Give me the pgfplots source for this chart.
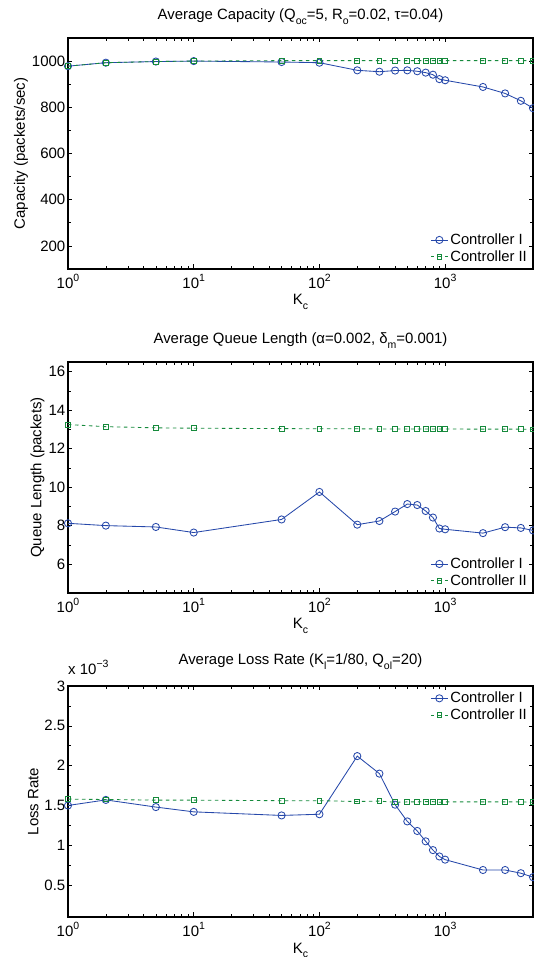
\documentclass[border=0pt]{standalone}
\usepackage{fontspec}
\setmainfont{Liberation Sans}
\usepackage{pgfplots}
\usepackage{pgfplotstable}
\pgfplotsset{compat=1.18}

\definecolor{cI}{RGB}{38,72,170}
\definecolor{cII}{RGB}{22,138,60}

% sub- and superscripts in the text font, as in the original
\newcommand\sub[1]{\raisebox{-0.55ex}{\fontsize{10.5}{10.5}\selectfont #1}}
\newcommand\tp[1]{10\raisebox{0.9ex}{\fontsize{10.5}{10.5}\selectfont #1}}

\pgfplotsset{
  kc/.style={
    scale only axis, width=465pt, height=231pt,
    xmin=1, xmax=5000,
    xtick={1,10,100,1000}, xticklabels={\tp{0},\tp{1},\tp{2},\tp{3}},
    minor y tick num=1,
    tick align=inside, major tick length=4.5pt, minor tick length=3pt,
    axis line style={line width=1.1pt},
    every tick/.style={black, line width=0.6pt},
    ticklabel style={font=\fontsize{15}{15}\selectfont},
    /pgf/number format/assume math mode=true,
    /pgf/number format/1000 sep={},
    xticklabel style={anchor=base, yshift=-19.7pt},
    yticklabel style={inner sep=2.5pt},
    label style={font=\fontsize{15}{15}\selectfont},
    xlabel={K\sub{c}},
    xlabel style={at={(axis description cs:0.5,0)}, anchor=base, yshift=-36pt},
    title style={font=\fontsize{14.9}{15}\selectfont, at={(axis description cs:0.5,1)}, anchor=base, yshift=12pt},
    legend cell align=left,
    legend style={draw=none, fill=none, font=\fontsize{14.8}{15}\selectfont,
      inner sep=0pt, row sep=0.5pt},
  },
  c1/.style={color=cI, line width=0.85pt, mark=o, mark size=3.6pt, mark options={solid}},
  c2/.style={color=cII, line width=0.85pt, dash pattern=on 3.5pt off 3.5pt, mark=square, mark size=2.4pt, mark options={solid}},
}

\pgfplotstableread{
K     capI  capII
1     978   978
2     993   993
5     998   998
10    1000  1000
50    996   1002
100   993   1002
200   960   1002
300   954   1002
400   959   1002
500   960   1002
600   956   1002
700   950   1002
800   941   1002
900   922   1002
1000  917   1002
2000  888   1002
3000  860   1002
4000  828   1002
5000  796   1002
}\captab

\pgfplotstableread{
K     qI    qII
1     8.12  13.25
2     8.00  13.14
5     7.93  13.08
10    7.64  13.06
50    8.32  13.04
100   9.75  13.03
200   8.05  13.03
300   8.24  13.02
400   8.73  13.02
500   9.12  13.02
600   9.07  13.02
700   8.76  13.02
800   8.42  13.02
900   7.85  13.02
1000  7.81  13.02
2000  7.61  13.01
3000  7.92  13.01
4000  7.88  13.01
5000  7.75  13.00
}\quetab

\pgfplotstableread{
K     lI        lII
1     0.00150   0.00158
2     0.00157   0.001575
5     0.00148   0.001567
10    0.00142   0.001567
50    0.001375  0.00156
100   0.00139   0.00156
200   0.00212   0.00155
300   0.00190   0.001555
400   0.00151   0.00154
500   0.00130   0.001545
600   0.00118   0.001545
700   0.00105   0.001548
800   0.00094   0.001548
900   0.00086   0.00154
1000  0.00082   0.001545
2000  0.00069   0.001545
3000  0.00069   0.001545
4000  0.00065   0.001545
5000  0.00060   0.00154
}\losstab

\begin{document}
\begin{tikzpicture}
\useasboundingbox (0,0) rectangle (534pt,957pt);

% capacity
\begin{semilogxaxis}[kc, at={(68pt,688pt)},
  ymin=100, ymax=1100, ytick={200,400,...,1000},
  title={Average Capacity (Q\sub{oc}=5, R\sub{o}=0.02, τ=0.04)},
  ylabel={Capacity (packets/sec)},
  ylabel style={at={(axis description cs:-0.101,0.5)}, anchor=center},
  legend style={at={(axis description cs:1,0)}, anchor=south east, xshift=-4pt, yshift=4pt}]
\addplot[c1] table[x=K, y=capI] {\captab};
\addplot[c2] table[x=K, y=capII] {\captab};
\legend{Controller I, Controller II}
\end{semilogxaxis}

% queue length
\begin{semilogxaxis}[kc, at={(68pt,364pt)},
  ymin=4.5, ymax=16.5, ytick={6,8,...,16},
  title={Average Queue Length (α=0.002, δ\sub{m}=0.001)},
  ylabel={Queue Length (packets)},
  ylabel style={at={(axis description cs:-0.0656,0.5)}, anchor=center},
  legend style={at={(axis description cs:1,0)}, anchor=south east, xshift=-4pt, yshift=4pt}]
\addplot[c1] table[x=K, y=qI] {\quetab};
\addplot[c2] table[x=K, y=qII] {\quetab};
\legend{Controller I, Controller II}
\end{semilogxaxis}

% loss rate
\begin{semilogxaxis}[kc, at={(68pt,40pt)},
  ymin=0.0001, ymax=0.003,
  ytick={0.0005,0.001,0.0015,0.002,0.0025,0.003},
  scaled y ticks=base 10:3,
  ytick scale label code/.code={x \tp{−3}},
  every y tick scale label/.style={at={(axis description cs:0,1)}, anchor=base west,
    yshift=11pt, inner sep=0pt, font=\fontsize{15}{15}\selectfont},
  title={Average Loss Rate (K\sub{l}=1/80, Q\sub{ol}=20)},
  title style={yshift=3pt},
  ylabel={Loss Rate},
  ylabel style={at={(axis description cs:-0.0744,0.5)}, anchor=center},
  legend style={at={(axis description cs:1,1)}, anchor=north east, xshift=-4pt, yshift=-4pt}]
\addplot[c1] table[x=K, y=lI] {\losstab};
\addplot[c2] table[x=K, y=lII] {\losstab};
\legend{Controller I, Controller II}
\end{semilogxaxis}
\end{tikzpicture}
\end{document}
